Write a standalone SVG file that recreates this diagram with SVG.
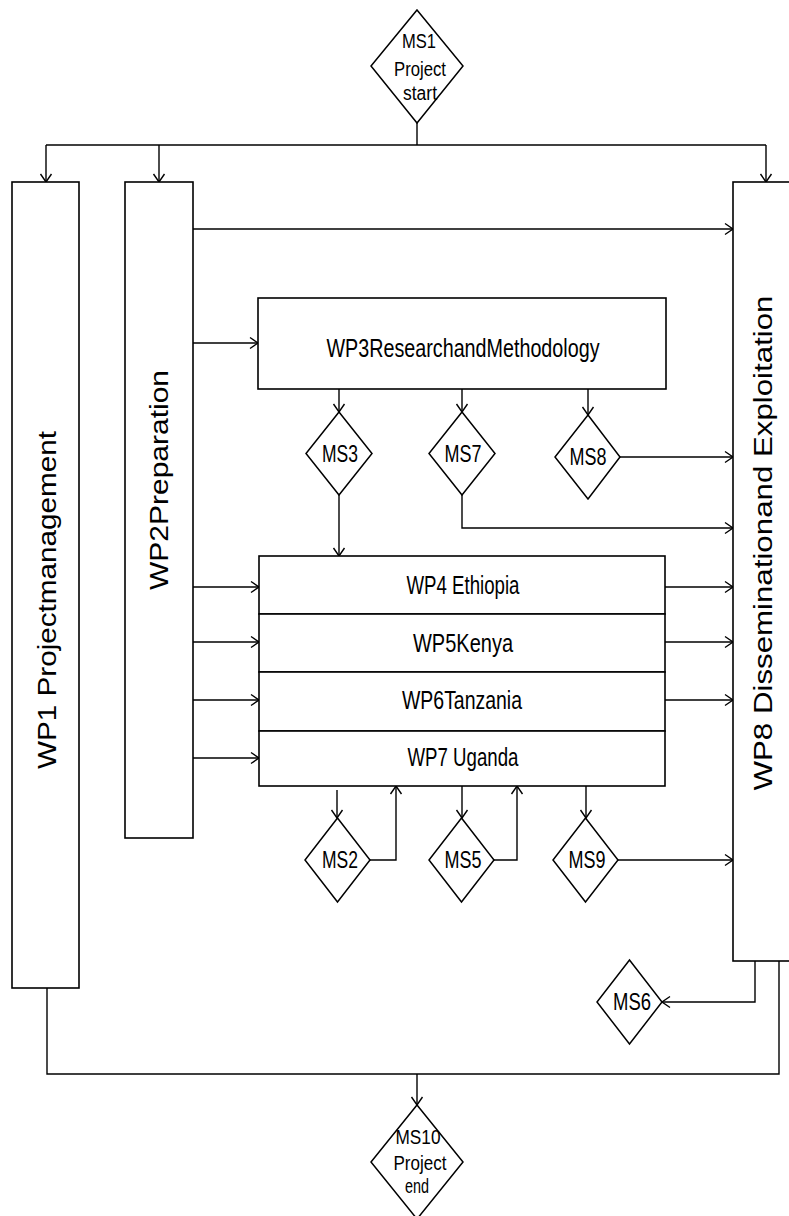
<svg xmlns="http://www.w3.org/2000/svg" width="789" height="1216" viewBox="0 0 789 1216">
<style>
.box{fill:#fff;stroke:#000;stroke-width:1.6}
.dia{fill:#fff;stroke:#000;stroke-width:1.5}
.ln{fill:none;stroke:#000;stroke-width:1.4}
.arr{marker-end:url(#ah)}
text{font-family:"Liberation Sans",Arial,sans-serif;fill:#000}
.big{font-size:25px}
.ms{font-size:23px}
.msl{font-size:20px}
</style>
<defs>
<marker id="ah" markerUnits="userSpaceOnUse" markerWidth="12" markerHeight="14" refX="9" refY="6" orient="auto" overflow="visible">
<path d="M1,0.5 L9,6 L1,11.5" fill="none" stroke="#000" stroke-width="1.4"/>
</marker>
</defs>

<g id="connectors">
<path class="ln" d="M417,123 V145"/>
<path class="ln" d="M46,145 H766"/>
<path class="ln arr" d="M46,145 V182"/>
<path class="ln arr" d="M159,145 V182"/>
<path class="ln arr" d="M766,145 V182"/>
<path class="ln arr" d="M193,229 H733"/>
<path class="ln arr" d="M193,343 H258"/>
<path class="ln arr" d="M339,389 V412"/>
<path class="ln arr" d="M462,389 V412"/>
<path class="ln arr" d="M588,389 V415"/>
<path class="ln arr" d="M620,457 H733"/>
<path class="ln arr" d="M462,495 V528 H733"/>
<path class="ln arr" d="M339,495 V556"/>
<path class="ln arr" d="M193,587 H259"/>
<path class="ln arr" d="M193,642 H259"/>
<path class="ln arr" d="M193,700 H259"/>
<path class="ln arr" d="M193,758 H259"/>
<path class="ln arr" d="M665,587 H733"/>
<path class="ln arr" d="M665,642 H733"/>
<path class="ln arr" d="M665,700 H733"/>
<path class="ln arr" d="M337,790 V818"/>
<path class="ln arr" d="M370,860 H396 V786"/>
<path class="ln arr" d="M462,786 V818"/>
<path class="ln arr" d="M494,860 H517 V786"/>
<path class="ln arr" d="M586,786 V818"/>
<path class="ln arr" d="M618,860 H733"/>
<path class="ln arr" d="M755,961 V1002 H662"/>
<path class="ln" d="M47,988 V1074 H779 V961"/>
<path class="ln arr" d="M417,1074 V1105"/>
</g>

<g id="MS1">
<polygon class="dia" points="417,10 463,66 417,123 371,66"/>
<text class="msl" x="419" y="48" text-anchor="middle" textLength="34" lengthAdjust="spacingAndGlyphs">MS1</text>
<text class="msl" x="420" y="76" text-anchor="middle" textLength="52" lengthAdjust="spacingAndGlyphs">Project</text>
<text class="msl" x="420" y="100" text-anchor="middle" textLength="34" lengthAdjust="spacingAndGlyphs">start</text>
</g>

<g id="WP1">
<rect class="box" x="12" y="182" width="67" height="806"/>
<text class="big" transform="translate(56,600) rotate(-90)" text-anchor="middle" textLength="338" lengthAdjust="spacingAndGlyphs">WP1 Projectmanagement</text>
</g>

<g id="WP2">
<rect class="box" x="125" y="182" width="68" height="656"/>
<text class="big" transform="translate(168,480) rotate(-90)" text-anchor="middle" textLength="220" lengthAdjust="spacingAndGlyphs">WP2Preparation</text>
</g>

<g id="WP8">
<rect class="box" x="733" y="182" width="72" height="779"/>
<text class="big" transform="translate(772,543) rotate(-90)" text-anchor="middle" textLength="495" lengthAdjust="spacingAndGlyphs">WP8 Disseminationand Exploitation</text>
</g>

<g id="WP3">
<rect class="box" x="258" y="298" width="408" height="91"/>
<text class="big" x="463" y="357" text-anchor="middle" textLength="273" lengthAdjust="spacingAndGlyphs">WP3ResearchandMethodology</text>
</g>

<g id="WP4">
<rect class="box" x="259" y="556" width="406" height="58"/>
<text class="big" x="463" y="594" text-anchor="middle" textLength="113" lengthAdjust="spacingAndGlyphs">WP4 Ethiopia</text>
</g>
<g id="WP5">
<rect class="box" x="259" y="614" width="406" height="58"/>
<text class="big" x="463" y="652" text-anchor="middle" textLength="100" lengthAdjust="spacingAndGlyphs">WP5Kenya</text>
</g>
<g id="WP6">
<rect class="box" x="259" y="672" width="406" height="59"/>
<text class="big" x="462" y="709" text-anchor="middle" textLength="120" lengthAdjust="spacingAndGlyphs">WP6Tanzania</text>
</g>
<g id="WP7">
<rect class="box" x="259" y="731" width="406" height="55"/>
<text class="big" x="463" y="766" text-anchor="middle" textLength="111" lengthAdjust="spacingAndGlyphs">WP7 Uganda</text>
</g>

<g id="MS3">
<polygon class="dia" points="339,412 372,453.5 339,495 306,453.5"/>
<text class="ms" x="340" y="462" text-anchor="middle" textLength="36" lengthAdjust="spacingAndGlyphs">MS3</text>
</g>
<g id="MS7">
<polygon class="dia" points="462,412 495,453.5 462,495 429,453.5"/>
<text class="ms" x="463" y="462" text-anchor="middle" textLength="37" lengthAdjust="spacingAndGlyphs">MS7</text>
</g>
<g id="MS8">
<polygon class="dia" points="588,415 620,457 588,499 555,457"/>
<text class="ms" x="588" y="465" text-anchor="middle" textLength="37" lengthAdjust="spacingAndGlyphs">MS8</text>
</g>
<g id="MS2">
<polygon class="dia" points="337.5,818 370,860 337.5,902 305,860"/>
<text class="ms" x="340" y="868" text-anchor="middle" textLength="36" lengthAdjust="spacingAndGlyphs">MS2</text>
</g>
<g id="MS5">
<polygon class="dia" points="461.5,818 494,860 461.5,902 429,860"/>
<text class="ms" x="463" y="868" text-anchor="middle" textLength="37" lengthAdjust="spacingAndGlyphs">MS5</text>
</g>
<g id="MS9">
<polygon class="dia" points="585.5,818 618,860 585.5,902 553,860"/>
<text class="ms" x="587" y="868" text-anchor="middle" textLength="37" lengthAdjust="spacingAndGlyphs">MS9</text>
</g>
<g id="MS6">
<polygon class="dia" points="629.5,960 662,1002 629.5,1044 597,1002"/>
<text class="ms" x="632" y="1010" text-anchor="middle" textLength="38" lengthAdjust="spacingAndGlyphs">MS6</text>
</g>

<g id="MS10">
<polygon class="dia" points="417,1105 463,1162 417,1219 371,1162"/>
<text class="msl" x="418" y="1144" text-anchor="middle" textLength="45" lengthAdjust="spacingAndGlyphs">MS10</text>
<text class="msl" x="420" y="1170" text-anchor="middle" textLength="53" lengthAdjust="spacingAndGlyphs">Project</text>
<text class="msl" x="417" y="1193" text-anchor="middle" textLength="24" lengthAdjust="spacingAndGlyphs">end</text>
</g>
</svg>
